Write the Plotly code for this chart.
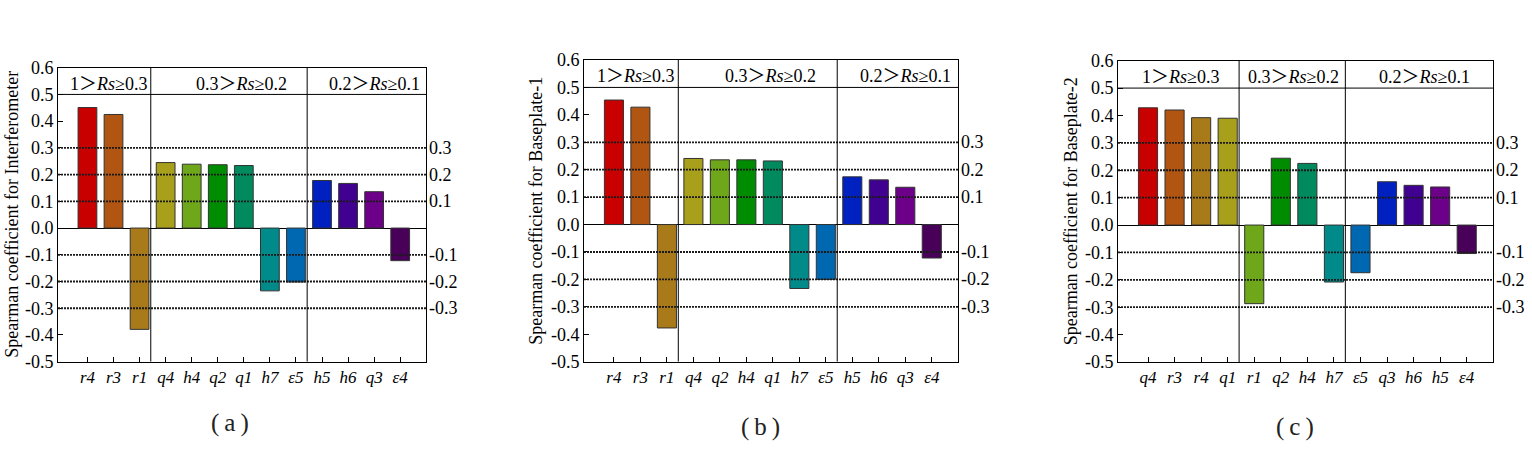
import plotly.graph_objects as go

# ---------------- data ----------------
labels_a = ["r4", "r3", "r1", "q4", "h4", "q2", "q1", "h7", "ε5", "h5", "h6", "q3", "ε4"]
values_a = [0.451, 0.425, -0.379, 0.245, 0.239, 0.237, 0.234, -0.235, -0.202, 0.178, 0.167, 0.136, -0.122]
groups_a = [3, 6, 4]

labels_b = ["r4", "r3", "r1", "q4", "q2", "h4", "q1", "h7", "ε5", "h5", "h6", "q3", "ε4"]
values_b = [0.454, 0.428, -0.377, 0.241, 0.236, 0.236, 0.232, -0.233, -0.200, 0.174, 0.163, 0.136, -0.122]
groups_b = [3, 6, 4]

labels_c = ["q4", "r3", "r4", "q1", "r1", "q2", "h4", "h7", "ε5", "q3", "h6", "h5", "ε4"]
values_c = [0.428, 0.420, 0.392, 0.390, -0.287, 0.244, 0.225, -0.208, -0.174, 0.158, 0.145, 0.139, -0.104]
groups_c = [4, 4, 5]

CJK = "<span style=\"font-family:'Noto Sans CJK SC'\">{}</span>"
group_titles = ["1" + CJK.format("＞") + "<i>Rs</i>≥0.3",
                "0.3" + CJK.format("＞") + "<i>Rs</i>≥0.2",
                "0.2" + CJK.format("＞") + "<i>Rs</i>≥0.1"]
y_titles = ["Spearman coefficient for Interferometer",
            "Spearman coefficient for Baseplate-1",
            "Spearman coefficient for Baseplate-2"]
captions = ["(\u2009a\u2009)", "(\u2009b\u2009)", "(\u2009c\u2009)"]

left_ticks = [-0.5, -0.4, -0.3, -0.2, -0.1, 0.0, 0.1, 0.2, 0.3, 0.4, 0.5, 0.6]
ref_levels = [0.3, 0.2, 0.1, -0.1, -0.2, -0.3]

bar_colors = ["#c80000", "#b05512", "#a87a1a", "#a8a01a", "#6ea81a", "#008c00",
              "#008a5e", "#008a8a", "#0068b0", "#0020c0", "#400090", "#6c0088", "#480058"]

# ---------------- layout geometry ----------------
W, H = 1532, 474
SERIF = "Liberation Serif"

panels = [
    dict(labels=labels_a, values=values_a, groups=groups_a,
         xdom=(58, 426), ytop=67.7, ybot=361.7, hdr_x=[0.8, 5.9, 11.0],
         ytitle_x=12, cap=(230, 423)),
    dict(labels=labels_b, values=values_b, groups=groups_b,
         xdom=(584, 958), ytop=60, ybot=361.7, hdr_x=[0.8, 5.9, 11.0],
         ytitle_x=536, cap=(760, 427)),
    dict(labels=labels_c, values=values_c, groups=groups_c,
         xdom=(1118, 1493), ytop=60.7, ybot=362, hdr_x=[1.21, 5.47, 10.4],
         ytitle_x=1071, cap=(1295, 427)),
]

fig = go.Figure()
shapes = []
annotations = []

for i, p in enumerate(panels):
    sfx = "" if i == 0 else str(i + 1)
    xa, ya = "x" + sfx, "y" + sfx
    fig.add_trace(go.Bar(
        x=p["labels"], y=p["values"], xaxis=xa, yaxis=ya,
        marker=dict(color=bar_colors, line=dict(color="#333333", width=1)),
        width=0.72, showlegend=False, hoverinfo="x+y",
    ))
    ydom = (1 - p["ybot"] / H, 1 - p["ytop"] / H)
    fig.layout["xaxis" + sfx] = dict(
        domain=[p["xdom"][0] / W, p["xdom"][1] / W], anchor=ya, automargin=False,
        type="category", range=[-1.13, 12.99],
        showline=True, mirror=True, linecolor="black", linewidth=1,
        ticks="inside", ticklen=5, tickcolor="black", showgrid=False,
        tickfont=dict(family=SERIF, size=17, color="black", style="italic"),
    )
    fig.layout["yaxis" + sfx] = dict(
        domain=list(ydom), anchor=xa, range=[-0.5, 0.6], automargin=False,
        tickvals=left_ticks, ticktext=[f"{v:.1f}" for v in left_ticks],
        showline=True, mirror=True, linecolor="black", linewidth=1,
        ticks="inside", ticklen=5, tickcolor="black", showgrid=False,
        zeroline=True, zerolinecolor="black", zerolinewidth=1,
        tickfont=dict(family=SERIF, size=18, color="black"),
    )
    xd = xa + " domain"
    for lv in ref_levels:
        shapes.append(dict(type="line", xref=xd, yref=ya, x0=0, x1=1, y0=lv, y1=lv,
                           line=dict(color="#1a1a1a", width=1.8, dash="2px,1px")))
        annotations.append(dict(xref=xd, yref=ya, x=1, y=lv, xanchor="left", yanchor="middle",
                                xshift=1, text=f"{lv:.1f}", showarrow=False,
                                font=dict(family=SERIF, size=18, color="black")))
    shapes.append(dict(type="line", xref=xd, yref=ya, x0=0, x1=1, y0=0.5, y1=0.5,
                       line=dict(color="black", width=1)))
    cum = 0
    for g in p["groups"][:-1]:
        cum += g
        shapes.append(dict(type="line", xref=xa, yref=ya, x0=cum - 0.57, x1=cum - 0.57,
                           y0=-0.5, y1=0.6, line=dict(color="black", width=1)))
    for hx, t in zip(p["hdr_x"], group_titles):
        annotations.append(dict(xref=xa, yref=ya, x=hx, y=0.548, text=t, showarrow=False,
                                xanchor="center", yanchor="middle",
                                font=dict(family=SERIF, size=18, color="black")))
    annotations.append(dict(xref="paper", yref="paper", x=p["ytitle_x"] / W,
                            y=(ydom[0] + ydom[1]) / 2, text=y_titles[i], textangle=-90,
                            showarrow=False, xanchor="center", yanchor="middle",
                            font=dict(family=SERIF, size=18, color="black")))
    annotations.append(dict(xref="paper", yref="paper", x=p["cap"][0] / W, y=1 - p["cap"][1] / H,
                            text=captions[i], showarrow=False, xanchor="center", yanchor="middle",
                            font=dict(family=SERIF, size=25, color="#222222")))

fig.update_layout(
    width=W, height=H, margin=dict(l=0, r=0, t=0, b=0, pad=0),
    paper_bgcolor="white", plot_bgcolor="white",
    shapes=shapes, annotations=annotations, bargap=0.28,
)
fig.write_html("out.html", config={"displayModeBar": False},
               post_script="document.body.style.margin='0px';document.body.style.overflow='hidden';")
